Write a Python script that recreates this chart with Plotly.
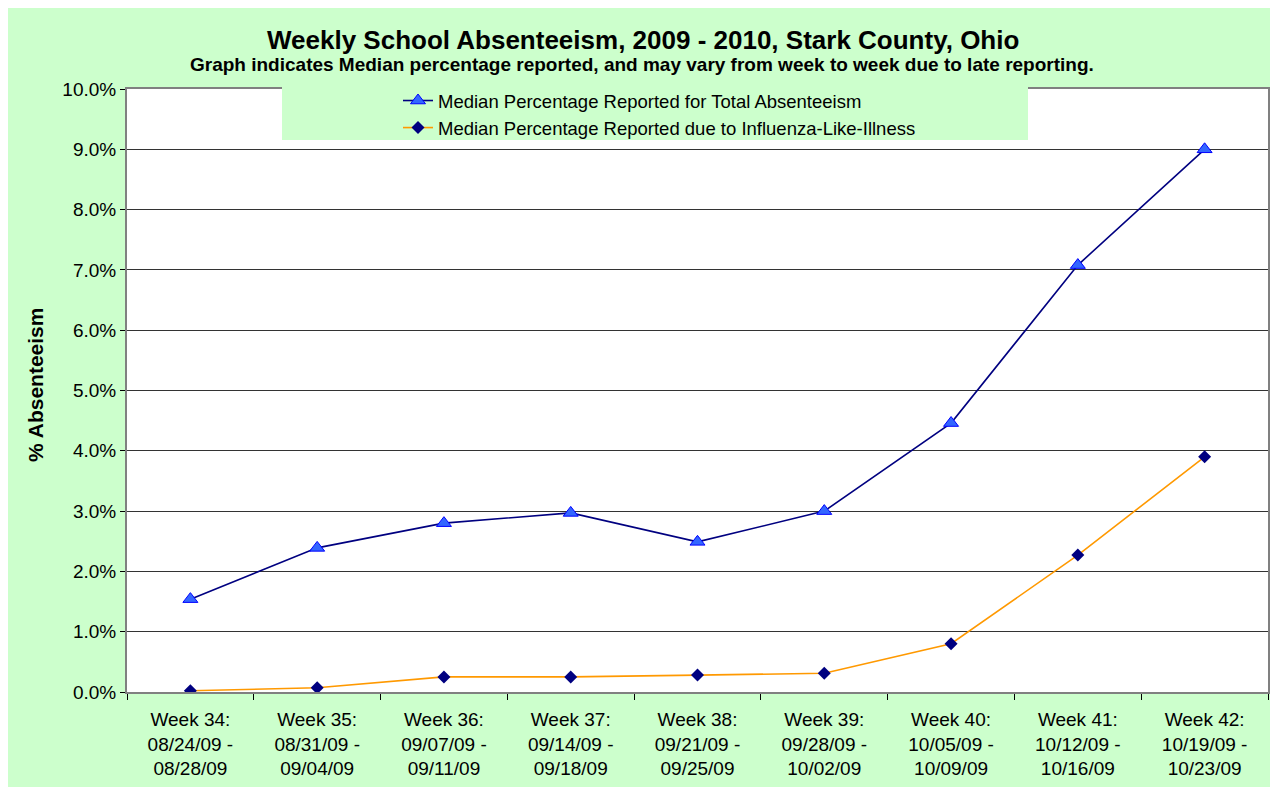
import plotly.graph_objects as go

weeks = [
    "Week 34:<br>08/24/09 -<br>08/28/09",
    "Week 35:<br>08/31/09 -<br>09/04/09",
    "Week 36:<br>09/07/09 -<br>09/11/09",
    "Week 37:<br>09/14/09 -<br>09/18/09",
    "Week 38:<br>09/21/09 -<br>09/25/09",
    "Week 39:<br>09/28/09 -<br>10/02/09",
    "Week 40:<br>10/05/09 -<br>10/09/09",
    "Week 41:<br>10/12/09 -<br>10/16/09",
    "Week 42:<br>10/19/09 -<br>10/23/09",
]
total_abs = [1.54, 2.39, 2.80, 2.97, 2.49, 3.00, 4.46, 7.08, 9.00]
ili_abs = [0.02, 0.07, 0.25, 0.25, 0.28, 0.31, 0.80, 2.27, 3.90]
y_ticks = [0, 1, 2, 3, 4, 5, 6, 7, 8, 9, 10]
y_tick_text = [f"{v:.1f}%" for v in y_ticks]

FONT = "Liberation Sans, Arial, sans-serif"
GREEN = "#CCFFCC"

# page is 1278x787; the figure sits at an 8px body offset
O = 8
W, H = 1278 - O, 787 - O
# plot area in page coordinates
L, R, T, B = 127, 1268, 89, 692
pw, ph = R - L, B - T


def px(x):
    return (x - L) / pw


def py(y):
    return (B - y) / ph


fig = go.Figure()
fig.add_trace(go.Scatter(
    x=weeks, y=total_abs, mode="lines+markers",
    name="Median Percentage Reported for Total Absenteeism",
    line=dict(color="#000080", width=1.6),
    marker=dict(symbol="triangle-up", size=13, color="#3366FF",
                line=dict(color="#0000FF", width=1)),
))
fig.add_trace(go.Scatter(
    x=weeks, y=ili_abs, mode="lines+markers",
    name="Median Percentage Reported due to Influenza-Like-Illness",
    line=dict(color="#FF9900", width=1.6),
    marker=dict(symbol="diamond", size=10, color="#000080",
                line=dict(color="#000080", width=0)),
))

shapes = [
    # legend box
    dict(type="rect", xref="paper", yref="paper", x0=px(282), x1=px(1028),
         y0=py(140), y1=py(84), fillcolor=GREEN, line=dict(width=0), layer="above"),
]

annotations = [
    dict(text="<b>Weekly School Absenteeism, 2009 - 2010, Stark County, Ohio</b>",
         xref="paper", yref="paper", x=px(643), y=py(40), xanchor="center", yanchor="middle",
         showarrow=False, font=dict(family=FONT, size=26, color="black")),
    dict(text="<b>Graph indicates Median percentage reported, and may vary from week to week due to late reporting.</b>",
         xref="paper", yref="paper", x=px(642), y=py(65), xanchor="center", yanchor="middle",
         showarrow=False, font=dict(family=FONT, size=19, color="black")),
    dict(text="<b>% Absenteeism</b>", textangle=-90,
         xref="paper", yref="paper", x=px(35), y=py(385), xanchor="center", yanchor="middle",
         showarrow=False, font=dict(family=FONT, size=21, color="black")),
]

fig.update_layout(
    width=W, height=H,
    margin=dict(l=L - O, r=1278 - R, t=T - O, b=787 - B),
    paper_bgcolor=GREEN,
    plot_bgcolor="white",
    font=dict(family=FONT, size=19, color="black"),
    shapes=shapes,
    annotations=annotations,
    showlegend=True,
    legend=dict(
        x=px(398), y=py(82), xanchor="left", yanchor="top",
        bgcolor="rgba(0,0,0,0)", borderwidth=0,
        font=dict(family=FONT, size=18.5, color="black"),
        itemwidth=30, tracegroupgap=0,
    ),
    xaxis=dict(
        type="category", range=[-0.5, 8.5], automargin=False,
        showgrid=False, showline=True, linecolor="#808080", linewidth=2, mirror=True,
        ticks="outside", tickson="boundaries", ticklen=6, tickcolor="black", tickwidth=1,
        ticklabelstandoff=9,
        tickfont=dict(family=FONT, size=19, color="black"),
    ),
    yaxis=dict(
        range=[0, 10], tickvals=y_ticks, ticktext=y_tick_text, automargin=False,
        showgrid=True, gridcolor="#333333", gridwidth=1,
        showline=True, linecolor="#808080", linewidth=2, mirror=True,
        ticks="outside", ticklen=5, tickcolor="black",
        tickfont=dict(family=FONT, size=19, color="black"),
        zeroline=False,
    ),
)

fig.write_html("out.html")
